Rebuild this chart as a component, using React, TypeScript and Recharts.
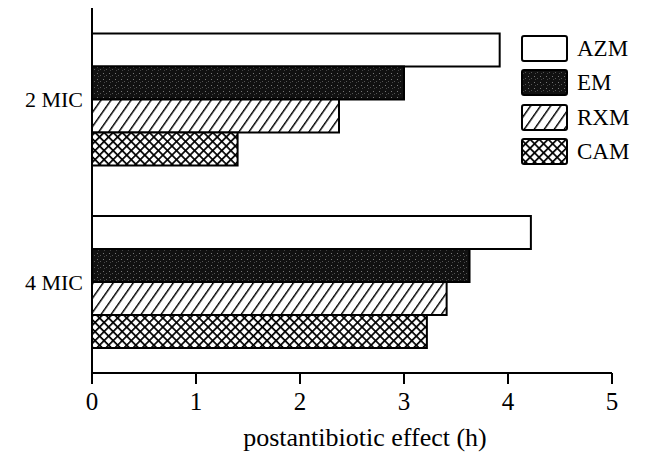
import React from 'react';
import { BarChart, Bar, XAxis, YAxis, Legend } from 'recharts';

const categories = ['2 MIC', '4 MIC'];
const azmValues = [3.92, 4.22];
const emValues = [3.0, 3.63];
const rxmValues = [2.375, 3.41];
const camValues = [1.4, 3.22];
const xTicks = [0, 1, 2, 3, 4, 5];
const seriesNames = ['AZM', 'EM', 'RXM', 'CAM'];

const data = categories.map((c, i) => ({
  name: c,
  AZM: azmValues[i],
  EM: emValues[i],
  RXM: rxmValues[i],
  CAM: camValues[i],
}));

const FONT = '"Liberation Serif", "DejaVu Serif", serif';

const fills: Record<string, string> = {
  AZM: '#ffffff',
  EM: 'url(#pat-em)',
  RXM: 'url(#pat-rxm)',
  CAM: 'url(#pat-cam)',
};

const LegendContent = () => (
  <div style={{ fontFamily: FONT }}>
    {seriesNames.map((n) => (
      <div key={n} style={{ display: 'flex', alignItems: 'center', height: 34.3 }}>
        <svg width={48} height={28} style={{ display: 'block' }}>
          <rect x={1} y={1} width={45} height={25} rx={2} fill={fills[n]} stroke="#000" strokeWidth={2} />
        </svg>
        <span style={{ marginLeft: 8, fontSize: 23, color: '#000', lineHeight: '28px' }}>{n}</span>
      </div>
    ))}
  </div>
);

const TitleLabel = (props: any) => {
  const vb = props.viewBox || {};
  return (
    <text
      x={vb.x + vb.width / 2 + 13}
      y={446}
      textAnchor="middle"
      fontFamily={FONT}
      fontSize={26}
      fill="#000"
    >
      postantibiotic effect (h)
    </text>
  );
};

export default function App() {
  return (
    <div style={{ position: 'absolute', left: 0, top: 0 }}>
      <BarChart
        width={645}
        height={452}
        data={data}
        layout="vertical"
        margin={{ top: 8, right: 33, bottom: 19, left: 12 }}
        barCategoryGap="14%"
        barGap={0}
      >
        <defs>
          <pattern id="pat-em" width={6} height={6} patternUnits="userSpaceOnUse">
            <rect width={6} height={6} fill="#111" />
            <rect x={1} y={1} width={1} height={1} fill="#777" />
            <rect x={4} y={3} width={1} height={1} fill="#555" />
            <rect x={2} y={4} width={1} height={1} fill="#444" />
          </pattern>
          <pattern id="pat-rxm" width={8.2} height={8.2} patternUnits="userSpaceOnUse" patternTransform="rotate(35)">
            <rect width={8.2} height={8.2} fill="#fff" />
            <line x1={0.7} y1={0} x2={0.7} y2={8.2} stroke="#000" strokeWidth={1.5} />
          </pattern>
          <pattern id="pat-cam" width={6.4} height={6.4} patternUnits="userSpaceOnUse" patternTransform="rotate(45)">
            <rect width={6.4} height={6.4} fill="#fff" />
            <line x1={0} y1={0.8} x2={6.4} y2={0.8} stroke="#000" strokeWidth={1.8} />
            <line x1={0.8} y1={0} x2={0.8} y2={6.4} stroke="#000" strokeWidth={1.8} />
          </pattern>
        </defs>
        <XAxis
          type="number"
          domain={[0, 5]}
          ticks={xTicks}
          height={60}
          axisLine={{ stroke: '#000', strokeWidth: 2 }}
          tickLine={{ stroke: '#000', strokeWidth: 2 }}
          tickSize={11}
          tickMargin={8}
          tick={{ fontFamily: FONT, fontSize: 25, fill: '#000' }}
          label={<TitleLabel />}
        />
        <YAxis
          type="category"
          dataKey="name"
          width={80}
          axisLine={{ stroke: '#000', strokeWidth: 2 }}
          tickLine={false}
          tickSize={0}
          tickMargin={9}
          tick={{ fontFamily: FONT, fontSize: 22, fill: '#000' }}
        />
        <Legend
          layout="horizontal"
          verticalAlign="middle"
          align="center"
          content={<LegendContent />}
          wrapperStyle={{ position: 'absolute', left: 521, top: 32, width: 120 }}
        />
        {seriesNames.map((n) => (
          <Bar
            key={n}
            dataKey={n}
            fill={fills[n]}
            stroke="#000"
            strokeWidth={2}
            isAnimationActive={false}
          />
        ))}
      </BarChart>
    </div>
  );
}
